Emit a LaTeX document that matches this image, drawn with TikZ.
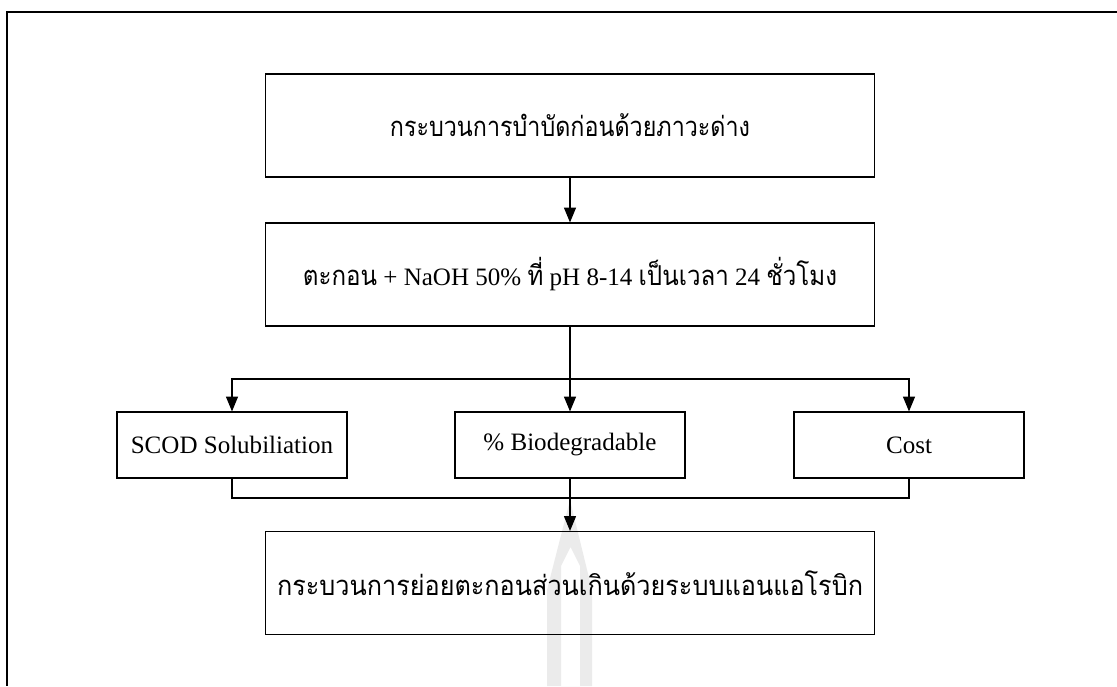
\documentclass[tikz,border=0pt]{standalone}
\usepackage{fontspec}
\usepackage{graphicx}
\setmainfont{Liberation Serif}
\newfontfamily\thaifont[Script=Thai]{Loma}
\usetikzlibrary{arrows.meta}

\tikzset{
  box/.style={draw, line width=0.8pt, align=center, inner sep=0pt,
    font=\fontsize{17.8}{21}\selectfont},
  bigbox/.style={box, minimum width=15.225cm, minimum height=2.575cm},
  smallbox/.style={box, minimum width=5.75cm, minimum height=1.65cm},
  arr/.style={line width=0.8pt, -{Triangle[length=10.5pt,width=8.5pt]}},
  link/.style={line width=0.8pt}
}
\newcommand{\thtxt}[2][1]{\scalebox{#1}[1]{\thaifont\fontsize{19.5}{23}\selectfont #2}}

\begin{document}
\begin{tikzpicture}[x=0.025cm, y=-0.025cm]
  \useasboundingbox (0,0) rectangle (1117,686);

  % watermark
  \fill[black!8, even odd rule] (547,686) -- (547,590) -- (570,500) -- (592,590) -- (592,686) -- cycle
    (561,686) -- (561,566) -- (570.5,547) -- (580,566) -- (580,686) -- cycle;

  % frame
  \draw[line width=1.2pt] (1117,12) -- (7,12) -- (7,686);

  \node[bigbox] (pre) at (570,125.5) {\thtxt[0.85]{กระบวนการบำบัดก่อนด้วยภาวะด่าง}};
  \node[bigbox] (mix) at (570,274.5)
    {\thtxt[0.88]{ตะกอน} + NaOH 50\% \thtxt[0.88]{ที่} pH 8-14 \thtxt[0.88]{เป็นเวลา} 24 \thtxt[0.88]{ชั่วโมง}};
  \node[smallbox] (scod) at (232,445) {SCOD Solubiliation};
  \node[smallbox] (bio) at (570,445) {\% Biodegradable};
  \node[smallbox] (cost) at (909,445) {Cost};
  \node[bigbox] (dig) at (570,583) {\thtxt[0.92]{กระบวนการย่อยตะกอนส่วนเกินด้วยระบบแอนแอโรบิก}};

  \coordinate (split) at (570,379);
  \coordinate (join) at (570,498);

  \draw[arr] (pre) -- (mix);
  \draw[arr] (mix) -- (bio);
  \draw[arr] (split) -| (scod);
  \draw[arr] (split) -| (cost);
  \draw[link] (scod.south) |- (join) -| (cost.south);
  \draw[arr] (bio) -- (dig);
\end{tikzpicture}
\end{document}
